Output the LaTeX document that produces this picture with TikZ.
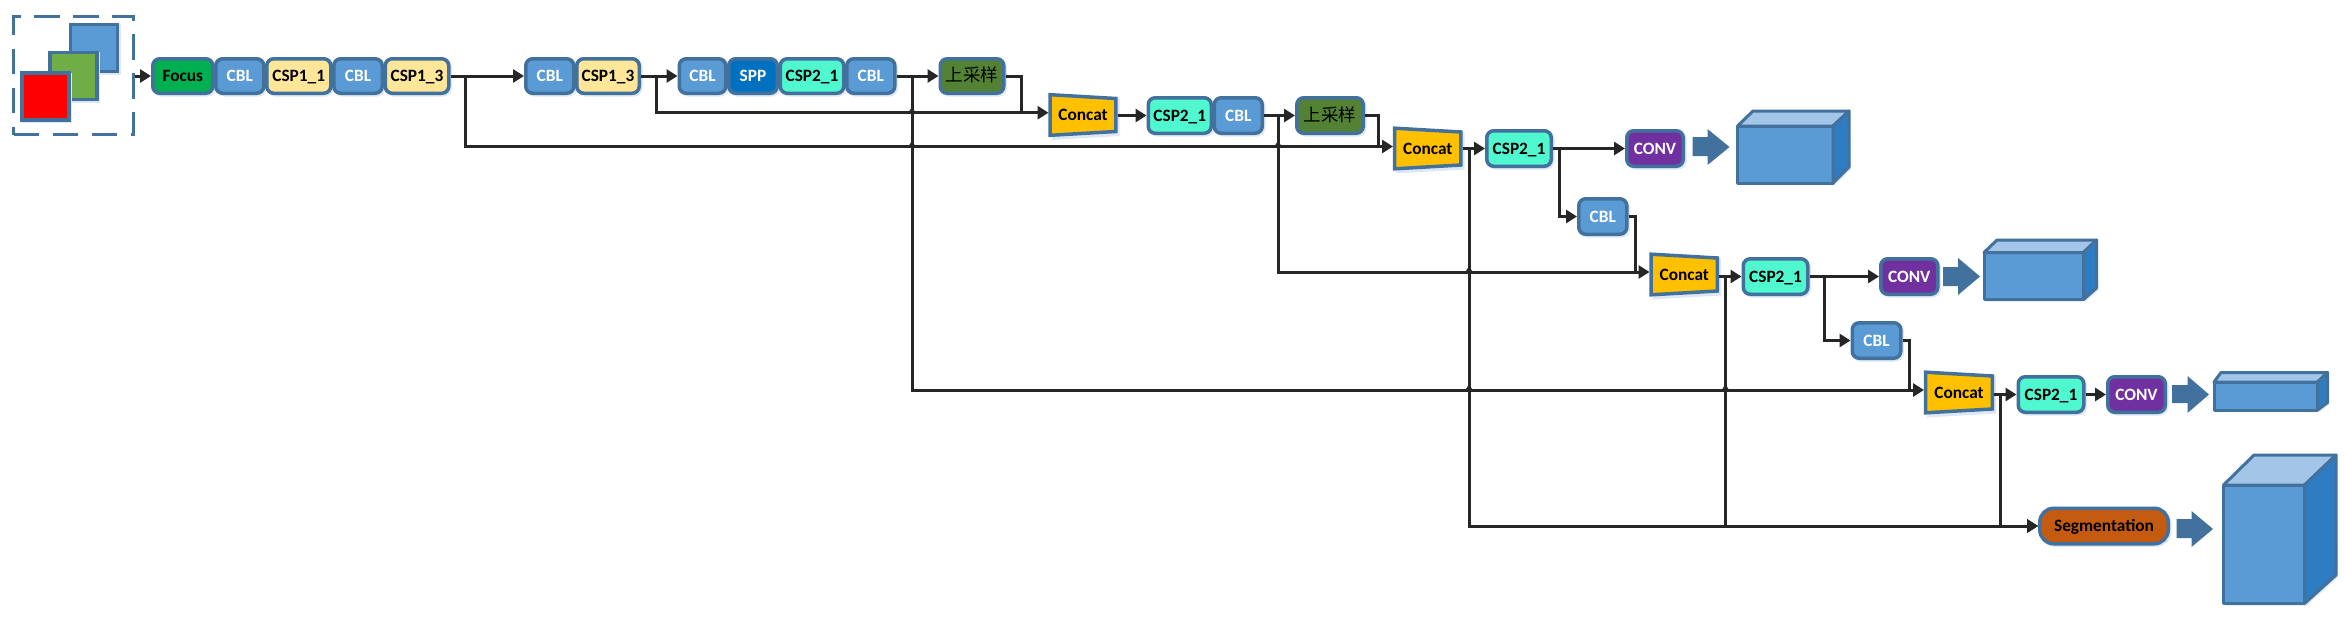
\documentclass[tikz,border=0pt]{standalone}
\usepackage{fontspec}
\setmainfont{Carlito}
\newfontfamily\cjkf{Noto Sans CJK SC}
\usetikzlibrary{arrows.meta,shadows}
\definecolor{edgeb}{HTML}{41719C}
\definecolor{shad}{HTML}{DDE8F4}
\definecolor{blueb}{HTML}{5B9BD5}
\definecolor{greenb}{HTML}{00B050}
\definecolor{yellowb}{HTML}{FFE699}
\definecolor{sppb}{HTML}{0070C0}
\definecolor{tealb}{HTML}{4FF8CF}
\definecolor{upb}{HTML}{548235}
\definecolor{concatb}{HTML}{FFC000}
\definecolor{convb}{HTML}{7030A0}
\definecolor{segb}{HTML}{C55A11}
\definecolor{sideb}{HTML}{2E7DC3}
\definecolor{topb}{HTML}{A3C6E8}
\definecolor{connc}{HTML}{262626}
\definecolor{squareg}{HTML}{70AD47}
\tikzset{
  x=1pt,y=-1pt,
  basebox/.style={draw=edgeb,line width=3.5pt,rounded corners=7pt,inner sep=0pt,
    font=\bfseries\fontsize{17.3}{17.3}\selectfont,text height=11pt,text depth=0pt,
    copy shadow={draw=shad,fill=shad,shadow xshift=1.5pt,shadow yshift=-1.5pt}},
  focusb/.style={basebox,fill=greenb,text=black},
  cblb/.style={basebox,fill=blueb,text=white},
  csponeb/.style={basebox,fill=yellowb,text=black},
  sppbox/.style={basebox,fill=sppb,text=white},
  csptwob/.style={basebox,fill=tealb,text=black},
  upbox/.style={basebox,fill=upb,text=black,font=\cjkf\fontsize{17.5}{17.5}\selectfont},
  convbox/.style={basebox,fill=convb,text=white},
  segbox/.style={basebox,fill=segb,text=black,rounded corners=14pt},
  concattext/.style={inner sep=0pt,font=\bfseries\fontsize{17.3}{17.3}\selectfont,text height=11pt,text depth=0pt,text=black},
  concatshape/.style={fill=concatb,draw=edgeb,line width=3.5pt,line join=miter},
  conn/.style={draw=connc,line width=3pt,line join=miter},
  arr/.style={conn,-{Triangle[length=11pt,width=13pt]}},
  hopfill/.style={fill=connc},
  bigarrow/.style={fill=edgeb},
  cubeedge/.style={draw=edgeb,line width=3pt,line join=round},
  squarebox/.style={draw=edgeb,line width=3.5pt,minimum width=47pt,minimum height=47pt,inner sep=0pt},
}
\newcommand{\bx}[7]{\node[#2,minimum width={(#4-#3-3.5)*1pt},minimum height={(#6-#5-3.5)*1pt}] (#1) at ({(#3+#4)/2},{(#5+#6)/2}) {#7};}
% name, x1, x2, ytop
\newcommand{\concatb}[4]{%
  \fill[shad] ({#2+3},{#4+2}) -- ({#3+2},{#4+6}) -- ({#3+2},{#4+43}) -- ({#2+3},{#4+47}) -- cycle;
  \path[concatshape] ({#2+1.7},{#4+1.7}) -- ({#3-1.7},{#4+5.5}) -- ({#3-1.7},{#4+38.5}) -- ({#2+1.7},{#4+42.3}) -- cycle;
  \node[concattext,minimum width={(#3-#2)*1pt},minimum height=44pt] (#1) at ({(#2+#3)/2},{#4+22}) {Concat};}
% x1,x2,head x,ytop,shaft top,shaft bottom,ybottom
\newcommand{\blockarrow}[7]{\fill[bigarrow] (#1,#5) -- (#3,#5) -- (#3,#4) -- (#2,{(#4+#7)/2}) -- (#3,#7) -- (#3,#6) -- (#1,#6) -- cycle;}
% front x1,x2,y1,y2, back x1,x2,y1, side y2
\newcommand{\cubeb}[8]{%
  \fill[shad] ({#2+2},{#4+2}) -- ({#1+2},{#4+2}) -- (#1,#3) -- (#5,#7) -- (#6,#7) -- ({#6+2},{#8+2}) -- cycle;
  \path[cubeedge,fill=blueb] (#1,#3) rectangle (#2,#4);
  \path[cubeedge,fill=topb] (#1,#3) -- (#5,#7) -- (#6,#7) -- (#2,#3) -- cycle;
  \path[cubeedge,fill=sideb] (#2,#3) -- (#6,#7) -- (#6,#8) -- (#2,#4) -- cycle;}
\newcommand{\hop}[1]{\fill[hopfill,shift={(#1)}] (-5,1) .. controls (-2.5,0) and (-2,-4.5) .. (0,-4.5) .. controls (2,-4.5) and (2.5,0) .. (5,1) -- cycle;}
\begin{document}
\begin{tikzpicture}
\useasboundingbox (0,0) rectangle (2344,616);
\fill[white] (0,0) rectangle (2344,616);

% input image
\node[draw=none,minimum width=122pt,minimum height=121pt,inner sep=0pt,outer sep=0pt] (input) at (73.5,75.5) {};
\draw[edgeb,line width=3.5pt,dash pattern=on 25.5pt off 13.5pt,line cap=butt] (13.5,134.5) -- (133.5,134.5) -- (133.5,16.5) -- (13.5,16.5) -- cycle;
\node[squarebox,fill=blueb,copy shadow={draw=shad,fill=shad,shadow xshift=1.5pt,shadow yshift=-1.5pt}] (sqb) at (94,48) {};
\node[squarebox,fill=squareg,copy shadow={draw=shad,fill=shad,shadow xshift=1.5pt,shadow yshift=-1.5pt}] (sqg) at (73.5,76) {};
\node[squarebox,fill=red,copy shadow={draw=shad,fill=shad,shadow xshift=1.5pt,shadow yshift=-1.5pt}] (sqr) at (45.5,96.5) {};

% first rows
\bx{focus}{focusb}{151}{214.5}{57}{95}{Focus}
\bx{cbla}{cblb}{214}{265.5}{57}{95}{CBL}
\bx{cspa}{csponeb}{265}{332.5}{57}{95}{CSP1\_1}
\bx{cblc}{cblb}{332}{384}{57}{95}{CBL}
\bx{cspb}{csponeb}{383.5}{450.5}{57}{95}{CSP1\_3}

\bx{cbld}{cblb}{524}{575.5}{57}{95}{CBL}
\bx{cspc}{csponeb}{575}{641}{57}{95}{CSP1\_3}

\bx{cble}{cblb}{677.5}{727.5}{57}{95}{CBL}
\bx{spp}{sppbox}{727}{779}{57}{95}{SPP}
\bx{cspd}{csptwob}{778.5}{845.5}{57}{95}{CSP2\_1}
\bx{cblf}{cblb}{845}{896.5}{57}{95}{CBL}
\bx{upa}{upbox}{938.5}{1005.5}{57}{95}{上采样}

\concatb{cona}{1048.5}{1117.5}{93}
\bx{cspe}{csptwob}{1146.5}{1213}{96}{135}{CSP2\_1}
\bx{cblg}{cblb}{1212.5}{1264}{96}{135}{CBL}
\bx{upb}{upbox}{1295}{1365}{96}{135}{上采样}

\concatb{conb}{1393}{1462.5}{126.5}
\bx{cspf}{csptwob}{1485}{1553}{129}{168}{CSP2\_1}
\bx{conva}{convbox}{1625}{1685}{129}{168}{CONV}
\blockarrow{1692.5}{1729.5}{1707.5}{129}{137}{156}{165}
\cubeb{1737.5}{1833}{126}{183}{1753}{1849}{111}{167}

\bx{cblh}{cblb}{1577}{1628.5}{197}{236}{CBL}
\concatb{conc}{1649.5}{1719}{252.5}
\bx{cspg}{csptwob}{1741.5}{1809.5}{257}{296}{CSP2\_1}
\bx{convb}{convbox}{1879}{1939.5}{257}{296}{CONV}
\blockarrow{1943}{1980}{1958}{258}{267}{286}{295}
\cubeb{1984}{2083.5}{252.5}{299.5}{1997}{2096.5}{240}{288}

\bx{cbli}{cblb}{1850.5}{1902.5}{321}{360}{CBL}
\concatb{cond}{1924}{1994}{370.5}
\bx{csph}{csptwob}{2016.5}{2085.5}{375}{414}{CSP2\_1}
\bx{convc}{convbox}{2106}{2167}{375}{414}{CONV}
\blockarrow{2172}{2209}{2187.5}{376}{385}{403}{413}
\cubeb{2214}{2317.5}{382}{410}{2221}{2327.5}{372.5}{402.5}

\bx{seg}{segbox}{2038}{2170}{506.5}{545.5}{Segmentation}
\blockarrow{2176.5}{2213}{2191.5}{511}{519}{538}{547}
\cubeb{2223.5}{2304.5}{485}{603.5}{2254}{2336}{455}{575}

% named junctions
\coordinate (cainy) at (1048.5,112.7);
\coordinate (cbiny) at (1393,146.5);
\coordinate (cciny) at (1649.5,272);
\coordinate (cdiny) at (1924,390);
\coordinate (ja) at (465.4,76);
\coordinate (jb) at (656.6,76);
\coordinate (jc) at (912,76);
\coordinate (jd) at (1278,115.5);
\coordinate (je) at (1469,148.5);
\coordinate (jf) at (1559.8,148.5);
\coordinate (jg) at (1725.4,276.5);
\coordinate (jh) at (1824.3,276.5);
\coordinate (ji) at (2000.7,394.5);
\coordinate (ka) at (1021,76);
\coordinate (kb) at (1378.6,115.5);
\coordinate (kc) at (1635,216.5);
\coordinate (kd) at (1909.7,340.5);

% connectors
\draw[arr] (input.east |- focus.west) -- (focus.west);
\draw[arr] (cspb.east) -- (cbld.west);
\draw[arr] (ja) |- (cbiny);
\draw[arr] (cspc.east) -- (cble.west);
\draw[arr] (jb) |- (cainy);
\draw[arr] (cblf.east) -- (upa.west);
\draw[arr] (jc) |- (cdiny);
\draw[conn] (upa.east) -- (ka) -- (ka |- cainy);
\draw[arr] (cona.east |- cspe.west) -- (cspe.west);
\draw[arr] (cblg.east) -- (upb.west);
\draw[arr] (jd) |- (cciny);
\draw[conn] (upb.east) -- (kb) -- (kb |- cbiny);
\draw[arr] (conb.east |- cspf.west) -- (cspf.west);
\draw[arr] (je) |- (seg.west);
\draw[arr] (cspf.east) -- (conva.west);
\draw[arr] (jf) |- (cblh.west);
\draw[conn] (cblh.east) -- (kc) -- (kc |- cciny);
\draw[arr] (conc.east |- cspg.west) -- (cspg.west);
\draw[arr] (jg) |- (seg.west);
\draw[arr] (cspg.east) -- (convb.west);
\draw[arr] (jh) |- (cbli.west);
\draw[conn] (cbli.east) -- (kd) -- (kd |- cdiny);
\draw[arr] (cond.east |- csph.west) -- (csph.west);
\draw[arr] (ji) |- (seg.west);
\draw[arr] (csph.east) -- (convc.west);

% line hops
\hop{jc |- cainy}
\hop{jc |- cbiny}
\hop{jd |- cbiny}
\hop{je |- cciny}
\hop{je |- cdiny}
\hop{jg |- cdiny}
\end{tikzpicture}
\end{document}
